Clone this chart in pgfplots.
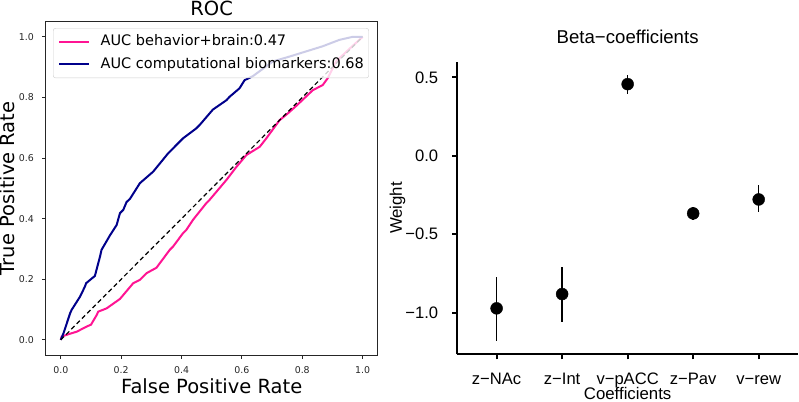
\documentclass[border=0pt]{standalone}
\usepackage{pgfplots}
\pgfplotsset{compat=1.18}
\usepackage{fontspec}
\setmainfont{DejaVu Sans}
\newfontfamily\helv{Liberation Sans}
\definecolor{rocpink}{RGB}{255,20,147}
\definecolor{rocnavy}{RGB}{0,0,139}
\pgfplotsset{every axis title shift=0pt}

\pgfplotstableread{
x  y       ep     em
1  -0.972  0.201  0.206
2  -0.881  0.170  0.176
3   0.457  0.061  0.060
4  -0.367  0.044  0.043
5  -0.278  0.091  0.078
}\betas

\begin{document}
\begin{tikzpicture}
\path[use as bounding box] (0bp,0bp) rectangle (799bp,402bp);

% ---- left: ROC
\begin{axis}[
    at={(45.7bp,47bp)}, anchor=south west,
    scale only axis, width=332bp, height=333.3bp,
    xmin=-0.05, xmax=1.05, ymin=-0.05, ymax=1.05,
    xtick={0,0.2,0.4,0.6,0.8,1}, xticklabels={0.0,0.2,0.4,0.6,0.8,1.0},
    ytick={0,0.2,0.4,0.6,0.8,1}, yticklabels={0.0,0.2,0.4,0.6,0.8,1.0},
    xtick pos=lower, ytick pos=left,
    tick align=outside, major tick length=3.5bp,
    tick style={black!85, line width=0.8bp},
    axis line style={black!85, line width=0.8bp},
    ticklabel style={font=\fontsize{9.4bp}{11bp}\selectfont, text=black!85, inner sep=0bp},
    xticklabel style={anchor=base, yshift=-14.5bp},
    yticklabel style={anchor=east, xshift=-8.2bp},
    title={ROC},
    title style={at={(axis description cs:0.5,1.02)}, anchor=base, font=\fontsize{19.5bp}{22bp}\selectfont},
    xlabel={False Positive Rate},
    xlabel style={at={(axis description cs:0.5,-0.115)}, anchor=base, font=\fontsize{19.5bp}{22bp}\selectfont},
    ylabel={True Positive Rate},
    ylabel style={at={(axis description cs:-0.0925,0.5)}, rotate=0, anchor=base, font=\fontsize{19.5bp}{22bp}\selectfont},
    legend style={at={(0.022,0.981)}, anchor=north west, draw=black!20, rounded corners=2.5bp,
        fill=white, fill opacity=0.8, text opacity=1,
        font=\fontsize{14.5bp}{17bp}\selectfont,
        inner xsep=5bp, inner ysep=6.7bp, row sep=8.3bp, column sep=10.5bp,
        nodes={inner sep=0bp, text height=11bp, text depth=3bp}},
    legend cell align=left,
    legend image code/.code={\draw[#1, line width=2bp] (0bp,0bp) -- (30bp,0bp);},
]
\addplot[rocpink, line width=2bp] coordinates {
    (0,0) (0.003,0.011) (0.030,0.020) (0.053,0.027) (0.086,0.044) (0.100,0.050)
    (0.119,0.082) (0.124,0.093) (0.152,0.104) (0.196,0.135) (0.240,0.187) (0.262,0.198)
    (0.284,0.220) (0.317,0.238) (0.361,0.297) (0.372,0.308) (0.405,0.352) (0.416,0.363)
    (0.438,0.396) (0.482,0.451) (0.493,0.462) (0.549,0.528) (0.582,0.571) (0.615,0.610)
    (0.659,0.637) (0.681,0.665) (0.725,0.725) (0.752,0.747) (0.780,0.772) (0.835,0.824)
    (0.868,0.841) (0.884,0.863) (0.912,0.919) (0.956,0.960) (1,1)
};
\addlegendentry{AUC behavior+brain:0.47}
\addplot[rocnavy, line width=2bp] coordinates {
    (0,0) (0.009,0.022) (0.031,0.088) (0.036,0.099) (0.064,0.143) (0.080,0.176)
    (0.084,0.187) (0.113,0.211) (0.130,0.275) (0.135,0.297) (0.163,0.345) (0.185,0.379)
    (0.196,0.418) (0.207,0.429) (0.218,0.455) (0.229,0.465) (0.262,0.517) (0.306,0.555)
    (0.356,0.616) (0.405,0.665) (0.449,0.698) (0.460,0.709) (0.504,0.760) (0.549,0.791)
    (0.559,0.802) (0.592,0.830) (0.609,0.857) (0.636,0.870) (0.703,0.919) (0.758,0.935)
    (0.813,0.952) (0.868,0.969) (0.923,0.990) (0.967,1.0) (1,1)
};
\addlegendentry{AUC computational biomarkers:0.68}
\addplot[black, line width=1.2bp, dash pattern=on 4.5bp off 3bp, forget plot] coordinates {(0,0) (1,1)};
\end{axis}

% ---- right: beta coefficients
\begin{axis}[
    at={(457.3bp,47.7bp)}, anchor=south west,
    scale only axis, width=340.7bp, height=292.6bp,
    xmin=0.4, xmax=5.6, ymin=-1.265, ymax=0.6,
    axis x line*=bottom, axis y line*=left,
    x axis line style={-}, y axis line style={-},
    axis line style={line width=2bp, black},
    xtick={1,2,3,4,5}, xticklabels={z−NAc,z−Int,v−pACC,z−Pav,v−rew},
    ytick={-1,-0.5,0,0.5}, yticklabels={−1.0,−0.5,0.0,0.5},
    tick align=outside, major tick length=5bp,
    tick style={line width=2bp, black},
    ticklabel style={font=\helv\fontsize{16.6bp}{19bp}\selectfont, text=black, inner sep=0bp},
    xticklabel style={anchor=base, yshift=-25bp},
    yticklabel style={anchor=east, xshift=-14bp},
    title={Beta−coefficients},
    title style={at={(axis description cs:0.5,1.063)}, anchor=base, font=\helv\fontsize{18.6bp}{21bp}\selectfont},
    xlabel={Coefficients},
    xlabel style={at={(axis description cs:0.5,-0.156)}, anchor=base, font=\helv\fontsize{16.8bp}{19bp}\selectfont},
    ylabel={Weight},
    ylabel style={at={(axis description cs:-0.163,0.5)}, rotate=0, anchor=base, font=\helv\fontsize{16.8bp}{19bp}\selectfont},
]
\addplot[black, only marks, mark=*, mark size=6bp,
    error bars/.cd, y dir=both, y explicit, error mark=none,
    error bar style={line width=1.6bp, black}]
    table[x=x, y=y, y error plus=ep, y error minus=em] {\betas};
\end{axis}
\end{tikzpicture}
\end{document}
